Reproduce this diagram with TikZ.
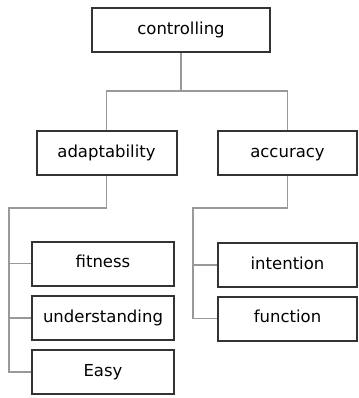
\documentclass[tikz,border=0pt]{standalone}
\usepackage{fontspec}
\setmainfont{DejaVu Sans}

\begin{document}
\begin{tikzpicture}[x=1pt,y=-1pt]
\tikzstyle{every node}+=[inner sep=0pt]
\tikzstyle{box}=[draw=black!80, line width=2pt, fill=white, minimum height=44pt, text height=12pt, text depth=3.5pt, font=\fontsize{16.5}{20}\selectfont]
\tikzstyle{link}=[draw=black!40, line width=1.3pt]
\useasboundingbox (0,0) rectangle (358,398);
% top level
\node [box, minimum width=178pt] (ctrl) at (181,30) {controlling};
% second level
\node [box, minimum width=140pt] (adapt) at (106.5,153) {adaptability};
\node [box, minimum width=139pt] (accur) at (287.5,153) {accuracy};
% leaves under adaptability
\node [box, minimum width=142pt] (fit) at (103,263.5) {fitness};
\node [box, minimum width=142pt] (und) at (103,318) {understanding};
\node [box, minimum width=142pt] (easy) at (103,372) {Easy};
% leaves under accuracy
\node [box, minimum width=139pt] (int) at (287.5,265) {intention};
\node [box, minimum width=139pt] (fun) at (287.5,318.5) {function};
% bends
\coordinate (bar) at (181,91);
\coordinate (lbar) at (9,208);
\coordinate (rbar) at (193,208);
% connectors
\draw [link] (ctrl.south) -- (bar);
\draw [link] (adapt.north) |- (bar) -| (accur.north);
\draw [link] (adapt.south) |- (lbar) |- (fit.west);
\draw [link] (lbar) |- (und.west);
\draw [link] (lbar) |- (easy.west);
\draw [link] (accur.south) |- (rbar) |- (int.west);
\draw [link] (rbar) |- (fun.west);
\end{tikzpicture}
\end{document}
